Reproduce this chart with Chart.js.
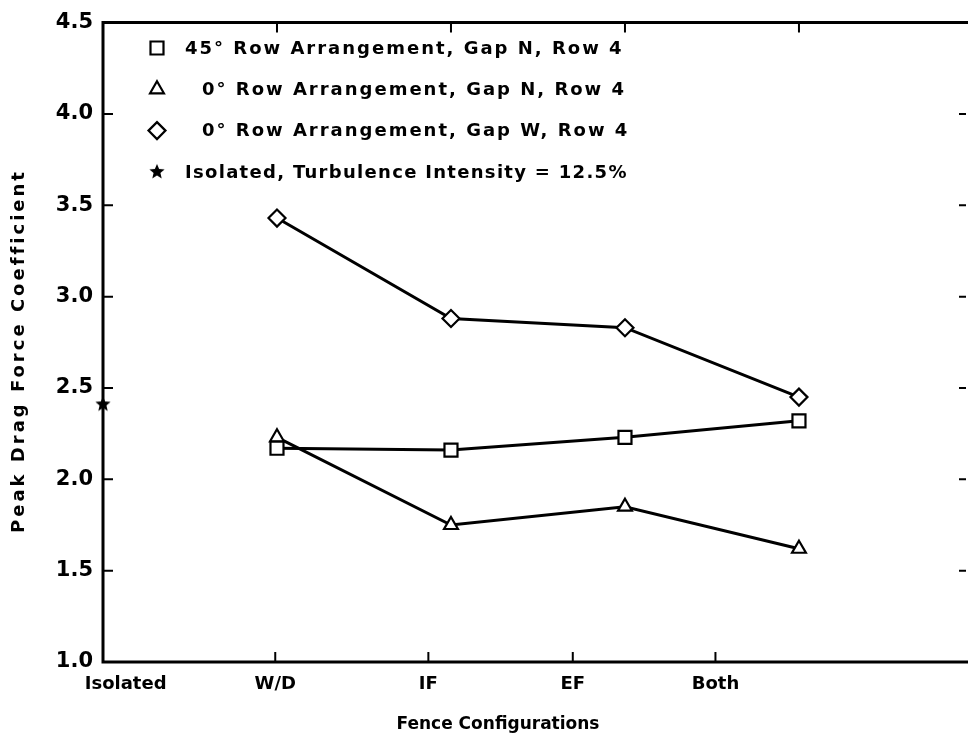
<!DOCTYPE html>
<html>
<head>
<meta charset="utf-8">
<script src="https://cdn.jsdelivr.net/npm/chart.js@4/dist/chart.umd.min.js"></script>
<style>
  html, body { margin: 0; padding: 0; background: #fff; }
</style>
</head>
<body>
<canvas id="chart" width="968" height="741"></canvas>
<script>
// categories along the x axis (Isolated sits on the left axis)
const categories = ['Isolated', 'W/D', 'IF', 'EF', 'Both'];
// where the printed labels / bottom ticks sit on the x axis
const labelPositions = [0.13, 0.99, 1.87, 2.70, 3.52];
const topTickPositions = [1, 2, 3, 4];

// peak drag force coefficient, one value per category
const square45GapN = [null, 2.17, 2.16, 2.23, 2.32];
const triangle0GapN = [null, 2.23, 1.75, 1.85, 1.62];
const diamond0GapW = [null, 3.43, 2.88, 2.83, 2.45];
const isolatedTI = [2.41, null, null, null, null];

const seriesNames = [
    '45° Row Arrangement, Gap N, Row 4',
    '0° Row Arrangement, Gap N, Row 4',
    '0° Row Arrangement, Gap W, Row 4',
    'Isolated, Turbulence Intensity = 12.5%'
];

const FONT = '"DejaVu Sans", sans-serif';

// filled five point star used for the isolated value
function makeStar(r) {
    const c = document.createElement('canvas');
    c.width = c.height = 2 * r + 2;
    const g = c.getContext('2d');
    g.beginPath();
    for (let i = 0; i < 10; i++) {
        const a = -Math.PI / 2 + i * Math.PI / 5;
        const rr = i % 2 ? r * 0.45 : r;
        g.lineTo(r + 1 + rr * Math.cos(a), r + 1 + rr * Math.sin(a));
    }
    g.closePath();
    g.fillStyle = '#000';
    g.fill();
    return c;
}
const star = makeStar(8);

const toPoints = arr => arr.map((v, i) => ({ x: i, y: v })).filter(p => p.y !== null);

const lineSet = (label, data, style, radius) => ({
    label: label,
    data: toPoints(data),
    borderColor: '#000',
    borderWidth: 3,
    pointStyle: style,
    pointRadius: radius,
    pointBackgroundColor: '#fff',
    pointBorderColor: '#000',
    pointBorderWidth: 2.2,
    showLine: true,
    clip: false
});

// draws a legend marker the same way as the plot markers
function drawMarker(ctx, style, x, y) {
    ctx.save();
    ctx.fillStyle = '#fff';
    ctx.strokeStyle = '#000';
    ctx.lineWidth = 2.2;
    ctx.beginPath();
    if (style === 'rect') {
        ctx.rect(x - 6.5, y - 6.5, 13, 13);
    } else if (style === 'triangle') {
        const r = 8;
        ctx.moveTo(x, y - r);
        ctx.lineTo(x + r * Math.sin(2 * Math.PI / 3), y - r * Math.cos(2 * Math.PI / 3));
        ctx.lineTo(x + r * Math.sin(4 * Math.PI / 3), y - r * Math.cos(4 * Math.PI / 3));
        ctx.closePath();
    } else if (style === 'rectRot') {
        const r = 8.5;
        ctx.moveTo(x, y - r);
        ctx.lineTo(x + r, y);
        ctx.lineTo(x, y + r);
        ctx.lineTo(x - r, y);
        ctx.closePath();
    } else {
        ctx.drawImage(style, x - star.width / 2, y - star.height / 2);
        ctx.restore();
        return;
    }
    ctx.fill();
    ctx.stroke();
    ctx.restore();
}

const framePlugin = {
    id: 'frame',
    beforeDatasetsDraw(chart) {
        const { ctx, chartArea: a, scales: { x, y } } = chart;
        ctx.save();
        ctx.strokeStyle = '#000';
        ctx.lineWidth = 3;
        ctx.beginPath();
        ctx.moveTo(a.right + 4, a.top);
        ctx.lineTo(a.left, a.top);
        ctx.lineTo(a.left, a.bottom);
        ctx.lineTo(a.right + 4, a.bottom);
        ctx.stroke();

        // inward tick marks
        ctx.lineWidth = 2;
        ctx.beginPath();
        y.ticks.forEach(t => {
            const py = y.getPixelForValue(t.value);
            ctx.moveTo(a.left, py); ctx.lineTo(a.left + 10, py);
            ctx.moveTo(a.right, py); ctx.lineTo(a.right - 7, py);
        });
        labelPositions.slice(1).forEach(v => {
            const px = x.getPixelForValue(v);
            ctx.moveTo(px, a.bottom); ctx.lineTo(px, a.bottom - 10);
        });
        topTickPositions.forEach(v => {
            const px = x.getPixelForValue(v);
            ctx.moveTo(px, a.top); ctx.lineTo(px, a.top + 10);
        });
        ctx.stroke();
        ctx.restore();
    },
    afterDraw(chart) {
        const { ctx } = chart;
        ctx.save();
        ctx.fillStyle = '#000';
        ctx.textBaseline = 'middle';
        ctx.font = 'bold 18px ' + FONT;

        // legend
        const styles = ['rect', 'triangle', 'rectRot', star];
        const indents = [185, 202, 202, 185];
        const spacing = ['2px', '2px', '2px', '1.3px'];
        seriesNames.forEach((name, i) => {
            const ly = 48 + i * 41.3;
            drawMarker(ctx, styles[i], 157, ly);
            ctx.textAlign = 'left';
            ctx.letterSpacing = spacing[i];
            ctx.fillText(name, indents[i], ly + 1);
        });

        // axis titles
        ctx.textAlign = 'center';
        ctx.font = 'bold 17px ' + FONT;
        ctx.letterSpacing = '0px';
        ctx.fillText('Fence Configurations', 498, 725);

        ctx.font = 'bold 18px ' + FONT;
        ctx.translate(19, 351);
        ctx.rotate(-Math.PI / 2);
        ctx.letterSpacing = '3px';
        ctx.fillText('Peak Drag Force Coefficient', 0, 0);
        ctx.restore();
        ctx.letterSpacing = '0px';
    }
};

new Chart(document.getElementById('chart'), {
    type: 'scatter',
    data: {
        datasets: [
            lineSet(seriesNames[0], square45GapN, 'rect', 9.2),
            lineSet(seriesNames[1], triangle0GapN, 'triangle', 8),
            lineSet(seriesNames[2], diamond0GapW, 'rectRot', 8.5),
            {
                label: seriesNames[3],
                data: toPoints(isolatedTI),
                pointStyle: star,
                pointRadius: 8,
                showLine: false,
                clip: false
            }
        ]
    },
    options: {
        responsive: false,
        animation: false,
        layout: { autoPadding: false, padding: { left: 0, top: 20, right: 2, bottom: 0 } },
        plugins: {
            legend: { display: false },
            tooltip: { enabled: false }
        },
        scales: {
            x: {
                type: 'linear',
                min: 0,
                max: 4.96,
                afterBuildTicks: s => { s.ticks = labelPositions.map(v => ({ value: v })); },
                afterFit: s => { s.height = 79; },
                ticks: {
                    callback: (v, i) => categories[i],
                    autoSkip: false,
                    maxRotation: 0,
                    padding: 12,
                    color: '#000',
                    font: { family: FONT, size: 18, weight: 'bold' }
                },
                grid: { display: false, drawTicks: false },
                border: { display: false }
            },
            y: {
                min: 1,
                max: 4.5,
                afterFit: s => { s.width = 103; },
                ticks: {
                    stepSize: 0.5,
                    callback: v => v.toFixed(1),
                    padding: 10,
                    color: '#000',
                    font: { family: FONT, size: 21, weight: 'bold' }
                },
                grid: { display: false, drawTicks: false },
                border: { display: false }
            }
        }
    },
    plugins: [framePlugin]
});
</script>
</body>
</html>
